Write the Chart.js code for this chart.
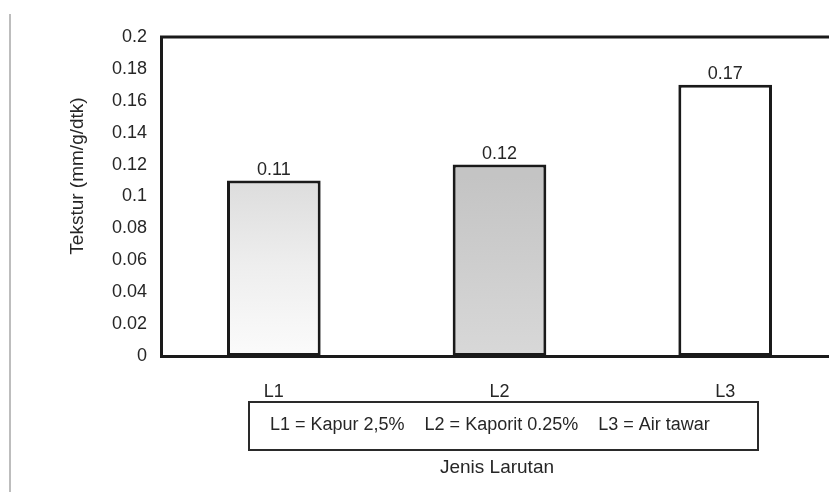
<!DOCTYPE html>
<html>
<head>
<meta charset="utf-8">
<script src="https://cdn.jsdelivr.net/npm/chart.js@4/dist/chart.umd.min.js"></script>
<style>
  html, body { margin: 0; padding: 0; background: #fff; overflow: hidden; }
  #wrap { width: 840px; height: 492px; }
</style>
</head>
<body>
<div id="wrap"><canvas id="grafik" width="840" height="492"></canvas></div>
<script>
// data
const kategori = ['L1', 'L2', 'L3'];
const nilaiTekstur = [0.11, 0.12, 0.17];
const labelNilai = ['0.11', '0.12', '0.17'];
const keterangan = 'L1 = Kapur 2,5%    L2 = Kaporit 0.25%    L3 = Air tawar';
const judulX = 'Jenis Larutan';
const judulY = 'Tekstur (mm/g/dtk)';

const FONT = "'Liberation Sans', Arial, sans-serif";
const TEKS = '#262626';

// isi batang: abu-abu muda, abu-abu, putih
function isiBatang(ctx) {
    const chart = ctx.chart;
    const area = chart.chartArea;
    if (!area) return '#fff';
    const g = chart.ctx.createLinearGradient(0, area.top + 140, 0, area.bottom);
    if (ctx.dataIndex === 0) {
        g.addColorStop(0, '#dcdcdc');
        g.addColorStop(0.5, '#eeeeee');
        g.addColorStop(1, '#fbfbfb');
        return g;
    }
    if (ctx.dataIndex === 1) {
        g.addColorStop(0, '#c4c4c4');
        g.addColorStop(1, '#d8d8d8');
        return g;
    }
    return '#ffffff';
}

// plugin untuk teks & kotak tambahan
const hiasan = {
    id: 'hiasan',
    afterDatasetsDraw(chart) {
        const { ctx, chartArea } = chart;
        const meta = chart.getDatasetMeta(0);
        ctx.save();
        // garis atas bingkai
        ctx.strokeStyle = '#1a1a1a';
        ctx.lineWidth = 3;
        ctx.beginPath();
        ctx.moveTo(chartArea.left - 1, chartArea.top);
        ctx.lineTo(chart.width, chartArea.top);
        ctx.stroke();

        // label nilai di atas batang
        ctx.fillStyle = TEKS;
        ctx.font = '18px ' + FONT;
        ctx.textAlign = 'center';
        ctx.textBaseline = 'alphabetic';
        meta.data.forEach((bar, i) => {
            ctx.fillText(labelNilai[i], bar.x, bar.y - 6);
        });
        ctx.restore();
    },
    afterDraw(chart) {
        const { ctx } = chart;
        ctx.save();
        // garis tepi hasil scan di kiri
        ctx.strokeStyle = '#bdbdbd';
        ctx.lineWidth = 2;
        ctx.beginPath();
        ctx.moveTo(10, 14);
        ctx.lineTo(10, 492);
        ctx.stroke();

        // kotak keterangan
        ctx.strokeStyle = '#2a2a2a';
        ctx.lineWidth = 2;
        ctx.strokeRect(249, 402, 509, 48);
        ctx.fillStyle = TEKS;
        ctx.font = '18px ' + FONT;
        ctx.textAlign = 'left';
        ctx.textBaseline = 'middle';
        ctx.fillText(keterangan, 270, 425);

        // judul sumbu x
        ctx.font = '19px ' + FONT;
        ctx.textAlign = 'center';
        ctx.fillText(judulX, 497, 468);

        // judul sumbu y
        ctx.translate(78, 176);
        ctx.rotate(-Math.PI / 2);
        ctx.fillText(judulY, 0, 0);
        ctx.restore();
    }
};

new Chart(document.getElementById('grafik'), {
    type: 'bar',
    data: {
        labels: kategori,
        datasets: [{
            data: nilaiTekstur,
            backgroundColor: isiBatang,
            borderColor: '#1a1a1a',
            borderWidth: 3,
            borderSkipped: false,
            barPercentage: 0.415,
            categoryPercentage: 1
        }]
    },
    options: {
        responsive: false,
        animation: false,
        layout: { padding: { top: 37, right: 2, left: 0, bottom: 0 } },
        plugins: {
            legend: { display: false },
            tooltip: { enabled: false }
        },
        scales: {
            x: {
                grid: { display: false, drawTicks: false },
                border: { display: true, color: '#1a1a1a', width: 3 },
                ticks: { color: TEKS, font: { family: FONT, size: 18 }, padding: 25 },
                afterFit: s => { s.height = 136; }
            },
            y: {
                min: 0,
                max: 0.2,
                grid: { display: false, drawTicks: false },
                border: { display: true, color: '#1a1a1a', width: 3 },
                ticks: {
                    stepSize: 0.02,
                    color: TEKS,
                    font: { family: FONT, size: 18 },
                    padding: 14,
                    callback: v => String(Math.round(v * 100) / 100)
                },
                afterFit: s => { s.width = 161; }
            }
        }
    },
    plugins: [hiasan]
});
</script>
</body>
</html>
